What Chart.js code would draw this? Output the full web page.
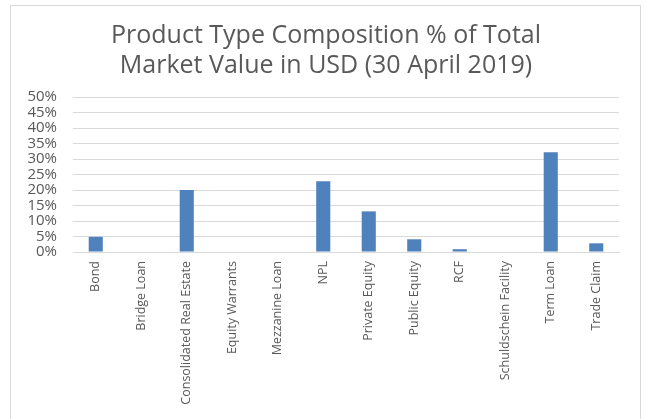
<!DOCTYPE html>
<html>
<head>
<meta charset="utf-8">
<script src="https://cdn.jsdelivr.net/npm/chart.js@4/dist/chart.umd.min.js"></script>
<style>
  html, body { margin: 0; padding: 0; background: #ffffff; }
  #wrap { position: relative; width: 645px; height: 419px; overflow: hidden; }
  #frame { position: absolute; left: 10px; top: 5px; width: 631px; height: 430px; border: 1px solid #d9d9d9; box-sizing: border-box; }
  #chart { position: absolute; left: 0; top: 0; }
</style>
</head>
<body>
<div id="wrap">
  <div id="frame"></div>
  <canvas id="chart" width="645" height="419"></canvas>
</div>
<script>
// product types and their share of total market value (%)
const productTypes = ['Bond', 'Bridge Loan', 'Consolidated Real Estate', 'Equity Warrants', 'Mezzanine Loan',
                      'NPL', 'Private Equity', 'Public Equity', 'RCF', 'Schuldschein Facility', 'Term Loan', 'Trade Claim'];
const sharePct = [4.9, 0, 20.0, 0, 0, 22.8, 13.1, 4.1, 0.9, 0, 32.2, 2.8];
const titleLines = ['Product Type Composition % of Total', 'Market Value in USD (30 April 2019)'];

const textGrey = '#595959';
const gridGrey = '#d9d9d9';

// the reference centres its title on the whole frame, not on the padded area
const shiftTitle = {
    id: 'shiftTitle',
    afterLayout(chart) {
        if (chart.titleBlock) {
            chart.titleBlock.left = 33;
            chart.titleBlock.right = 619;
        }
    }
};

const ctx = document.getElementById('chart').getContext('2d');
const chart = new Chart(ctx, {
    type: 'bar',
    data: {
        labels: productTypes,
        datasets: [{
            data: sharePct,
            backgroundColor: '#4f81bd',
            borderWidth: 0,
            barPercentage: 0.31,
            categoryPercentage: 1
        }]
    },
    options: {
        responsive: false,
        animation: false,
        layout: { padding: { top: 0, right: 26, bottom: 0, left: 0 } },
        plugins: {
            legend: { display: false },
            tooltip: { enabled: false },
            title: {
                display: true,
                text: titleLines,
                color: textGrey,
                font: { family: 'Open Sans', size: 25, weight: 'normal', lineHeight: 1.2 },
                padding: { top: 21, bottom: 16 }
            }
        },
        scales: {
            x: {
                grid: { display: false, drawTicks: false },
                border: { color: gridGrey, width: 1 },
                ticks: {
                    color: textGrey,
                    font: { family: 'Open Sans', size: 12.5 },
                    maxRotation: 90,
                    minRotation: 90,
                    padding: 9,
                    autoSkip: false
                },
                afterFit: (scale) => { scale.height = 167; }
            },
            y: {
                min: 0,
                max: 50,
                grid: { color: gridGrey, lineWidth: 1, drawTicks: false },
                border: { display: false },
                ticks: {
                    stepSize: 5,
                    autoSkip: false,
                    color: textGrey,
                    font: { family: 'Open Sans', size: 15, lineHeight: 1 },
                    padding: 16,
                    callback: (v) => v + '%'
                },
                afterFit: (scale) => { scale.width = 73; }
            }
        }
    },
    plugins: [shiftTitle]
});
</script>
</body>
</html>
